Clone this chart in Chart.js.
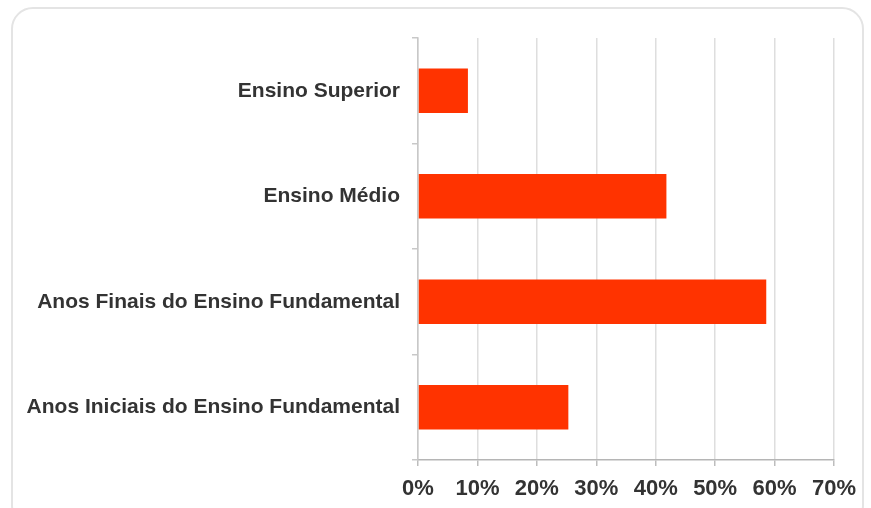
<!DOCTYPE html>
<html>
<head>
<meta charset="utf-8">
<script src="https://cdn.jsdelivr.net/npm/chart.js@4"></script>
<style>
  html, body { margin: 0; padding: 0; background: #ffffff; }
  #wrap { position: relative; width: 871px; height: 508px; overflow: hidden; }
  #panel { position: absolute; left: 11px; top: 7px; width: 853px; height: 520px;
           border: 2px solid #e4e4e4; border-radius: 22px; box-sizing: border-box; }
  canvas { position: absolute; left: 0; top: 0; }
</style>
</head>
<body>
<div id="wrap">
  <div id="panel"></div>
  <canvas id="c" width="871" height="508"></canvas>
</div>
<script>
const categories = ["Ensino Superior", "Ensino Médio", "Anos Finais do Ensino Fundamental", "Anos Iniciais do Ensino Fundamental"];
const values = [8.4, 41.8, 58.6, 25.3];
const xTicks = [0, 10, 20, 30, 40, 50, 60, 70];

const textColor = "#333333";
const yFont = { family: "'Liberation Sans', Arial, sans-serif", size: 21, weight: "bold" };
const xFont = { family: "'Liberation Sans', Arial, sans-serif", size: 22, weight: "bold" };

new Chart(document.getElementById("c"), {
  type: "bar",
  data: {
    labels: categories,
    datasets: [{
      data: values,
      backgroundColor: "#ff3300",
      borderWidth: 0,
      barPercentage: 0.42,
      categoryPercentage: 1
    }]
  },
  options: {
    indexAxis: "y",
    responsive: false,
    animation: false,
    layout: { padding: { top: 38, right: 37, left: 0, bottom: 0 } },
    plugins: { legend: { display: false }, tooltip: { enabled: false } },
    scales: {
      x: {
        min: 0, max: 70,
        afterBuildTicks: (s) => { s.ticks = xTicks.map(v => ({ value: v })); },
        afterFit: (s) => { s.height = 48; },
        ticks: { callback: (v) => v + "%", color: textColor, font: xFont, padding: 10, maxRotation: 0 },
        grid: { color: "#dedede", lineWidth: 1.5, tickLength: 6, tickColor: "#bdbdbd" },
        border: { color: "#b5b5b5", width: 1.5 }
      },
      y: {
        afterFit: (s) => { s.width = 418; },
        ticks: { color: textColor, font: yFont, padding: 12 },
        grid: { drawOnChartArea: false, tickLength: 6, color: "#c8c8c8", lineWidth: 1.5 },
        border: { color: "#c8c8c8", width: 1.5 }
      }
    }
  }
});
</script>
</body>
</html>
